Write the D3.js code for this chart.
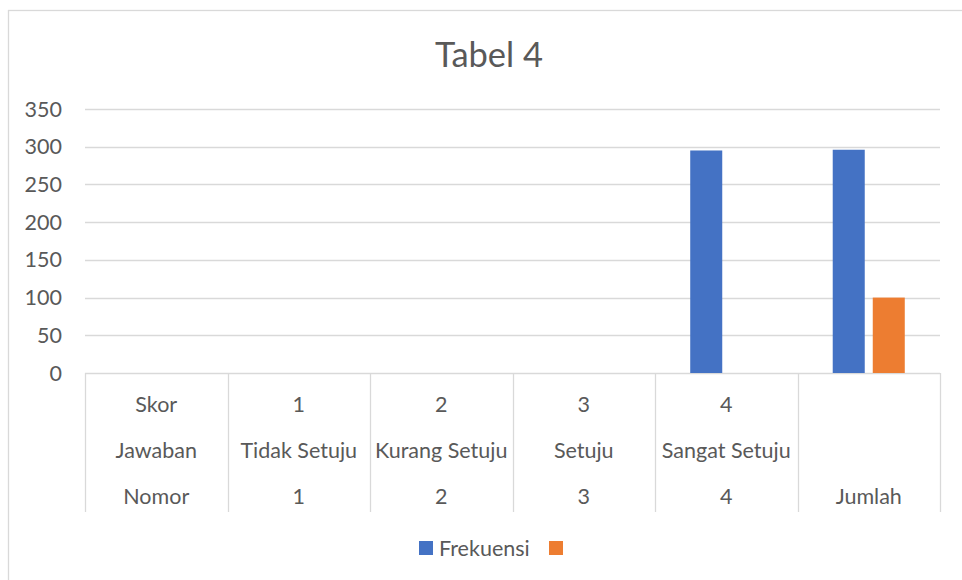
<!DOCTYPE html>
<html>
<head>
<meta charset="utf-8">
<script src="https://cdn.jsdelivr.net/npm/d3@7"></script>
<style>
	body { margin: 0; background: #fff; }
	svg { display: block; font-family: Lato, "Open Sans", sans-serif; }
</style>
</head>
<body>
<div id="chart"></div>
<script>
// Data
var skor = ["Skor", "1", "2", "3", "4", ""];
var jawaban = ["Jawaban", "Tidak Setuju", "Kurang Setuju", "Setuju", "Sangat Setuju", ""];
var nomor = ["Nomor", "1", "2", "3", "4", "Jumlah"];
var seriesNames = ["Frekuensi", ""];
var frekuensi = [0, 0, 0, 0, 295, 296];
var kolom2 = [null, null, null, null, null, 100];
var yTicks = [0, 50, 100, 150, 200, 250, 300, 350];
var colors = ["#4472C4", "#ED7D31"];

var width = 962;
var height = 580;
var textColor = "#595959";
var gridColor = "#d9d9d9";

var svg = d3.select("#chart")
	.append("svg")
	.attr("width", width)
	.attr("height", height);

// chart frame
svg.append("rect")
	.attr("x", 8.5)
	.attr("y", 10.5)
	.attr("width", 980)
	.attr("height", 600)
	.style("fill", "#fff")
	.style("stroke", gridColor)
	.style("stroke-width", 1.3);

// title
svg.append("text")
	.attr("x", 489)
	.attr("y", 67)
	.attr("text-anchor", "middle")
	.attr("font-size", "34.5px")
	.style("fill", textColor)
	.text("Tabel 4");

var x = d3.scaleBand()
	.domain(d3.range(nomor.length))
	.range([85, 940])
	.padding(0);

var xInner = d3.scaleBand()
	.domain(d3.range(seriesNames.length))
	.range([0, x.bandwidth()])
	.paddingInner(0.2)
	.paddingOuter(0.88);

var y = d3.scaleLinear()
	.domain([0, 350])
	.range([373, 109]);

// gridlines
svg.append("g")
	.selectAll("line")
	.data(yTicks)
	.enter()
	.append("line")
	.attr("x1", 85)
	.attr("x2", 940)
	.attr("y1", d => Math.round(y(d)) + 0.5)
	.attr("y2", d => Math.round(y(d)) + 0.5)
	.style("stroke", gridColor)
	.style("stroke-width", 1.3);

// y labels
svg.append("g")
	.selectAll("text")
	.data(yTicks)
	.enter()
	.append("text")
	.attr("x", 62)
	.attr("y", d => y(d) + 7.5)
	.attr("text-anchor", "end")
	.attr("font-size", "21.5px")
	.style("fill", textColor)
	.text(d => d);

// bars
var allSeries = [frekuensi, kolom2];
allSeries.forEach(function(values, s){
	svg.append("g")
		.selectAll("rect")
		.data(values.map((v, i) => ({i: i, v: v})).filter(d => d.v !== null))
		.enter()
		.append("rect")
		.attr("x", d => x(d.i) + xInner(s))
		.attr("width", xInner.bandwidth())
		.attr("y", d => y(d.v))
		.attr("height", d => y(0) - y(d.v))
		.style("fill", colors[s]);
});

// multi level category axis
var axis = svg.append("g");
axis.selectAll("line.sep")
	.data(d3.range(nomor.length + 1))
	.enter()
	.append("line")
	.attr("class", "sep")
	.attr("x1", d => Math.round(d < nomor.length ? x(d) : x.range()[1]) + 0.5)
	.attr("x2", d => Math.round(d < nomor.length ? x(d) : x.range()[1]) + 0.5)
	.attr("y1", 373)
	.attr("y2", 512)
	.style("stroke", gridColor)
	.style("stroke-width", 1.3);

var rows = [
	{labels: skor, y: 412},
	{labels: jawaban, y: 458},
	{labels: nomor, y: 504}
];
rows.forEach(function(row){
	axis.append("g")
		.selectAll("text")
		.data(row.labels)
		.enter()
		.append("text")
		.attr("x", (d, i) => x(i) + x.bandwidth() / 2)
		.attr("y", row.y)
		.attr("text-anchor", "middle")
		.attr("font-size", "21.5px")
		.style("fill", textColor)
		.text(d => d);
});

// legend
var legend = svg.append("g");
legend.append("rect")
	.attr("x", 419).attr("y", 541)
	.attr("width", 14).attr("height", 14)
	.style("fill", colors[0]);
legend.append("text")
	.attr("x", 439).attr("y", 555.5)
	.attr("font-size", "21.5px")
	.style("fill", textColor)
	.text(seriesNames[0]);
legend.append("rect")
	.attr("x", 549).attr("y", 541)
	.attr("width", 14).attr("height", 14)
	.style("fill", colors[1]);
</script>
</body>
</html>
